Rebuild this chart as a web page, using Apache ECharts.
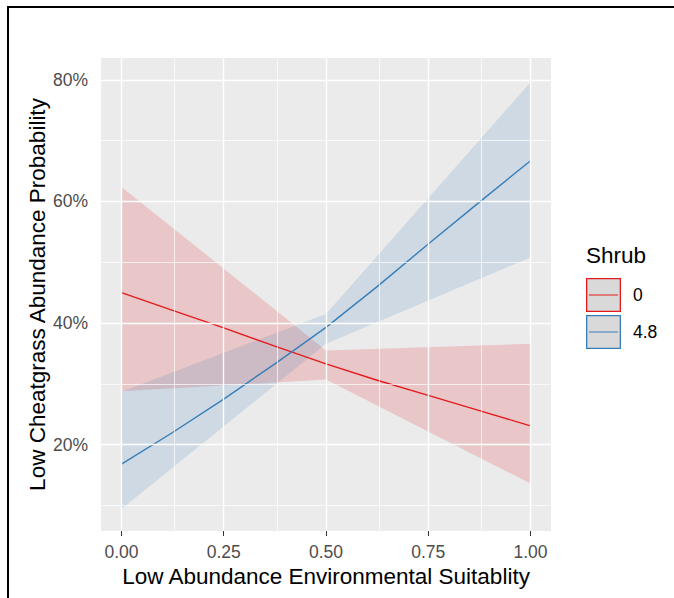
<!DOCTYPE html>
<html>
<head>
<meta charset="utf-8">
<title>Low Cheatgrass Abundance Probability</title>
<script src="https://cdn.jsdelivr.net/npm/echarts@6/dist/echarts.min.js"></script>
<style>
html, body { margin: 0; padding: 0; background: #fff; overflow: hidden; }
#chart { width: 674px; height: 598px; }
#frame { position: absolute; left: 7px; top: 6px; width: 700px; height: 620px;
  border-left: 2px solid #000; border-top: 2px solid #000; pointer-events: none; }
</style>
</head>
<body>
<div id="chart"></div>
<div id="frame"></div>
<script>
// fitted lines
const xs = [0, 0.125, 0.25, 0.375, 0.5, 0.625, 0.75, 0.875, 1];
const shrub0Fit = [0.450, 0.421, 0.392, 0.362, 0.333, 0.306, 0.281, 0.256, 0.231];
const shrub48Fit = [0.168, 0.220, 0.275, 0.333, 0.393, 0.460, 0.530, 0.599, 0.667];

// confidence ribbons (kinked at 0.5)
const bandX = [0, 0.5, 1];
const shrub0Lower = [0.288, 0.307, 0.136];
const shrub0Upper = [0.624, 0.355, 0.366];
const shrub48Lower = [0.094, 0.366, 0.508];
const shrub48Upper = [0.287, 0.415, 0.796];

const xTicks = [0, 0.25, 0.5, 0.75, 1];
const xMinor = [0.125, 0.375, 0.625, 0.875];
const yTicks = [0.2, 0.4, 0.6, 0.8];
const yMinor = [0.1, 0.3, 0.5, 0.7];

const font = '"Liberation Sans", Arial, sans-serif';
const red = '#E41A1C';
const blue = '#377EB8';

const chart = echarts.init(document.getElementById('chart'), null, { renderer: 'svg' });

function band(name, lower, upper, fill) {
  return {
    type: 'custom',
    name: name,
    z: 2,
    silent: true,
    data: [[bandX[0], lower[0]]],
    renderItem: function (params, api) {
      const pts = [];
      for (let i = 0; i < bandX.length; i++) pts.push(api.coord([bandX[i], upper[i]]));
      for (let i = bandX.length - 1; i >= 0; i--) pts.push(api.coord([bandX[i], lower[i]]));
      return { type: 'polygon', shape: { points: pts }, style: { fill: fill } };
    }
  };
}

const gridLines = []
  .concat(xTicks.map(v => ({ xAxis: v, lineStyle: { color: '#fff', width: 1.4, type: 'solid' } })))
  .concat(xMinor.map(v => ({ xAxis: v, lineStyle: { color: '#fff', width: 0.7, type: 'solid' } })))
  .concat(yTicks.map(v => ({ yAxis: v, lineStyle: { color: '#fff', width: 1.4, type: 'solid' } })))
  .concat(yMinor.map(v => ({ yAxis: v, lineStyle: { color: '#fff', width: 0.7, type: 'solid' } })));

const keyIcon = 'path://M0,0H35V34H0ZM1.3,1.3V32.7H33.7V1.3ZM3,16.4H32V17.6H3Z';

chart.setOption({
  animation: false,
  textStyle: { fontFamily: font },
  title: {
    text: 'Shrub',
    left: 586,
    top: 244,
    padding: 0,
    textStyle: { fontFamily: font, fontSize: 22.5, fontWeight: 'normal', color: '#000' }
  },
  legend: [
    { // grey key background
      orient: 'vertical', left: 586, top: 278, padding: 0,
      itemWidth: 35, itemHeight: 34, itemGap: 3,
      icon: 'rect', selectedMode: false,
      itemStyle: { color: '#D9D9D9', borderWidth: 0 },
      formatter: function () { return ''; },
      data: ['0', '4.8']
    },
    { // coloured frame + line
      orient: 'vertical', left: 586, top: 278, padding: 0,
      itemWidth: 35, itemHeight: 34, itemGap: 3,
      icon: keyIcon, selectedMode: false,
      itemStyle: { borderWidth: 0 },
      textStyle: { fontFamily: font, fontSize: 17.5, color: '#000', padding: [0, 0, 0, 7] },
      data: ['0', '4.8']
    }
  ],
  grid: {
    left: 101, right: 123, top: 58, bottom: 67,
    show: true, backgroundColor: '#EBEBEB', borderWidth: 0,
    containLabel: false, outerBoundsMode: 'none'
  },
  xAxis: {
    type: 'value', min: -0.05, max: 1.05,
    name: 'Low Abundance Environmental Suitablity',
    nameLocation: 'middle', nameGap: 34, nameMoveOverlap: false,
    nameTextStyle: { fontFamily: font, fontSize: 22.5, color: '#000' },
    axisLine: { show: false },
    axisTick: { show: true, length: 5, customValues: xTicks, lineStyle: { color: '#333', width: 1 } },
    axisLabel: { customValues: xTicks, formatter: v => v.toFixed(2), margin: 12,
      color: '#4D4D4D', fontSize: 17.5, fontFamily: font },
    splitLine: { show: false }
  },
  yAxis: {
    type: 'value', min: 0.058, max: 0.836,
    name: 'Low Cheatgrass Abundance Probability',
    nameLocation: 'middle', nameGap: 52, nameMoveOverlap: false,
    nameTextStyle: { fontFamily: font, fontSize: 22.5, color: '#000' },
    axisLine: { show: false },
    axisTick: { show: true, length: 5, customValues: yTicks, lineStyle: { color: '#333', width: 1 } },
    axisLabel: { customValues: yTicks, formatter: v => Math.round(v * 100) + '%', margin: 13,
      color: '#4D4D4D', fontSize: 17.5, fontFamily: font },
    splitLine: { show: false }
  },
  series: [
    {
      type: 'line', name: 'grid', data: [], z: 1, silent: true,
      markLine: { silent: true, symbol: 'none', label: { show: false }, animation: false, data: gridLines }
    },
    band('band 0', shrub0Lower, shrub0Upper, 'rgba(228,26,28,0.17)'),
    band('band 4.8', shrub48Lower, shrub48Upper, 'rgba(55,126,184,0.16)'),
    {
      type: 'line', name: '0', color: red, z: 3, silent: true,
      symbol: 'none', showSymbol: false,
      lineStyle: { width: 1.4, color: red },
      data: xs.map((x, i) => [x, shrub0Fit[i]])
    },
    {
      type: 'line', name: '4.8', color: blue, z: 3, silent: true,
      symbol: 'none', showSymbol: false,
      lineStyle: { width: 1.4, color: blue },
      data: xs.map((x, i) => [x, shrub48Fit[i]])
    }
  ]
});
</script>
</body>
</html>
